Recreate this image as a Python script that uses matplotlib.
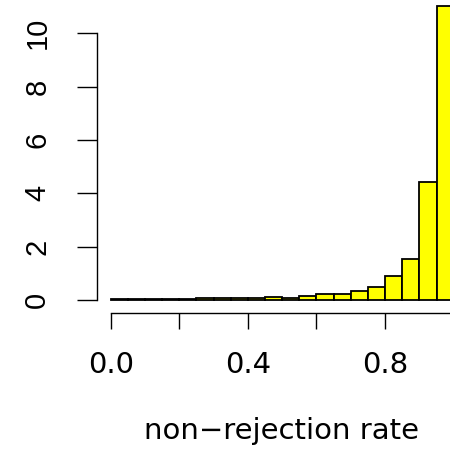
import numpy as np
import matplotlib
matplotlib.use('Agg')
import matplotlib.pyplot as plt

plt.rcParams['font.family'] = ['DejaVu Sans']

# histogram (density) of non-rejection rate, 20 bins on [0, 1]
bin_left = np.arange(20) * 0.05
density = [0.03, 0.03, 0.05, 0.05, 0.05, 0.06, 0.08, 0.06, 0.08, 0.12,
           0.08, 0.15, 0.21, 0.21, 0.35, 0.50, 0.89, 1.54, 4.44, 11.03]
x_ticks = [0.0, 0.2, 0.4, 0.6, 0.8, 1.0]
x_labels = ['0.0', '', '0.4', '', '0.8', '']
y_ticks = [0, 2, 4, 6, 8, 10]

W = H = 450
fig = plt.figure(figsize=(4.5, 4.5), dpi=100)
l, r = 97 / W, 467.4 / W
b, t = 1 - 313.3 / H, 1 + 33.4 / H
ax = fig.add_axes([l, b, r - l, t - b])
ax.set_xlim(-0.04, 1.04)
ax.set_ylim(-0.5, 12.5)

ax.bar(bin_left, density, width=0.05, align='edge', color='#ffff00',
       edgecolor='black', linewidth=1.3)

for s in ['top', 'right']:
    ax.spines[s].set_visible(False)
ax.spines['left'].set_bounds(0, 10)
ax.spines['bottom'].set_bounds(0, 1)
ax.spines['left'].set_linewidth(1.0)
ax.spines['bottom'].set_linewidth(1.0)

ax.set_xticks(x_ticks)
ax.set_xticklabels(x_labels, fontsize=21)
ax.set_yticks(y_ticks)
ax.set_yticklabels([str(v) for v in y_ticks], rotation=90, va='center',
                   fontsize=21,
                   family=['Liberation Sans Narrow', 'Liberation Sans'])
ax.tick_params(axis='x', length=11.5, width=1.0, pad=15.5)
ax.tick_params(axis='y', length=14.4, width=1.0, pad=18.5)

fig.text(282 / W, 1 - 431 / H, 'non\u2212rejection rate', ha='center',
         va='center', fontsize=21)

plt.savefig('out.png', dpi=100)
